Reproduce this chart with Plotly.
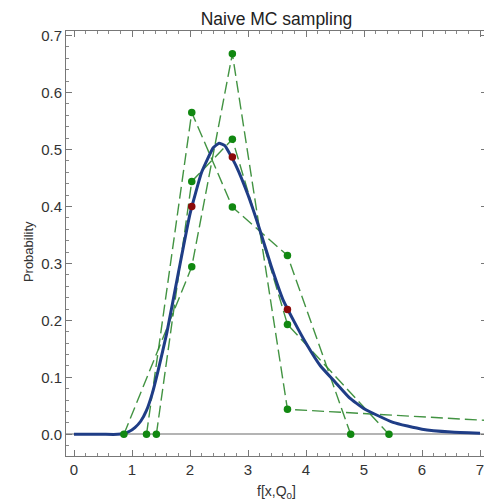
import plotly.graph_objects as go

# true distribution
curve_x = [0, 0.25, 0.5, 0.75, 0.85, 0.95, 1.05, 1.15, 1.25, 1.35, 1.45, 1.6, 1.8, 2.0, 2.2, 2.4,
           2.5, 2.6, 2.8, 3.0, 3.2, 3.4, 3.6, 3.8, 4.0, 4.25, 4.5, 4.75, 5.0, 5.5, 6.0, 6.5, 7.0]
curve_y = [0, 0, 0, 0, 0.001, 0.005, 0.012, 0.023, 0.042, 0.072, 0.112, 0.178, 0.284, 0.387, 0.46,
           0.503, 0.511, 0.507, 0.47, 0.42, 0.36, 0.295, 0.237, 0.197, 0.16, 0.12, 0.092, 0.064,
           0.045, 0.021, 0.009, 0.004, 0.002]

# exact values at the sampling points
true_x = [2.03, 2.73, 3.68]
true_y = [0.40, 0.487, 0.219]

# naive MC replicas
rep_a_x = [1.25, 2.03, 2.73, 3.68, 4.77]
rep_a_y = [0, 0.565, 0.399, 0.314, 0]
rep_b_x = [1.42, 2.03, 2.73, 3.68, 5.43]
rep_b_y = [0, 0.444, 0.518, 0.193, 0]
rep_c_x = [0.86, 2.03, 2.73, 3.68, 11.4]
rep_c_y = [0, 0.294, 0.668, 0.044, 0]

replicas = [(rep_a_x, rep_a_y), (rep_b_x, rep_b_y), (rep_c_x, rep_c_y)]

GREEN_LINE = 'rgba(45,135,45,0.9)'
GREEN_DOT = '#118811'
BLUE = '#1f3d86'
RED = '#8b0a0a'
FONT = 'Liberation Sans'

data = []
for rx, ry in replicas:
    data.append(go.Scatter(x=rx, y=ry, mode='lines',
                           line=dict(color=GREEN_LINE, width=1.4, dash='12px,5px')))

data.append(go.Scatter(x=curve_x, y=curve_y, mode='lines',
                       line=dict(color=BLUE, width=3, shape='spline', smoothing=0.4)))

for rx, ry in replicas:
    data.append(go.Scatter(x=rx, y=ry, mode='markers',
                           marker=dict(color=GREEN_DOT, size=7.5)))

data.append(go.Scatter(x=true_x, y=true_y, mode='markers',
                       marker=dict(color=RED, size=7.5)))

axis_common = dict(showgrid=False, showline=True, linecolor='#777777', linewidth=1,
                   mirror='allticks', ticks='inside', ticklen=6, tickcolor='#777777',
                   automargin=False,
                   tickfont=dict(family=FONT, size=15, color='#333333'))

fig = go.Figure(
    data=data,
    layout=go.Layout(
        title=dict(text='Naive MC sampling', x=0.5, xanchor='center', xref='paper',
                   yref='container', y=0.977, yanchor='middle',
                   font=dict(family=FONT, size=17.5, color='#222222')),
        xaxis=dict(range=[-0.138, 7.12], dtick=1, tick0=0,
                   minor=dict(dtick=0.2, ticks='inside', ticklen=3, tickcolor='#888888'),
                   zeroline=False, **axis_common),
        yaxis=dict(range=[-0.038, 0.708], dtick=0.1, tick0=0, tickformat='.1f',
                   minor=dict(dtick=0.02, ticks='inside', ticklen=3, tickcolor='#888888'),
                   zeroline=True, zerolinecolor='#b4b4b4', zerolinewidth=2, **axis_common),
        annotations=[
            dict(text='f[x,Q<sub>0</sub>]', xref='paper', yref='paper', x=0.5, y=-0.085,
                 xanchor='center', yanchor='middle', showarrow=False,
                 font=dict(family=FONT, size=14, color='#333333')),
            dict(text='Probability', xref='paper', yref='paper', x=-0.09, y=0.48,
                 xanchor='center', yanchor='middle', textangle=-90, showarrow=False,
                 font=dict(family=FONT, size=13, color='#333333')),
        ],
        plot_bgcolor='white',
        paper_bgcolor='white',
        showlegend=False,
        margin=dict(l=58, r=5, t=23, b=45),
    )
)

# page body has an 8px margin, so keep the figure inside the window
fig.update_layout(width=484, height=493)

fig.write_html("out.html")
